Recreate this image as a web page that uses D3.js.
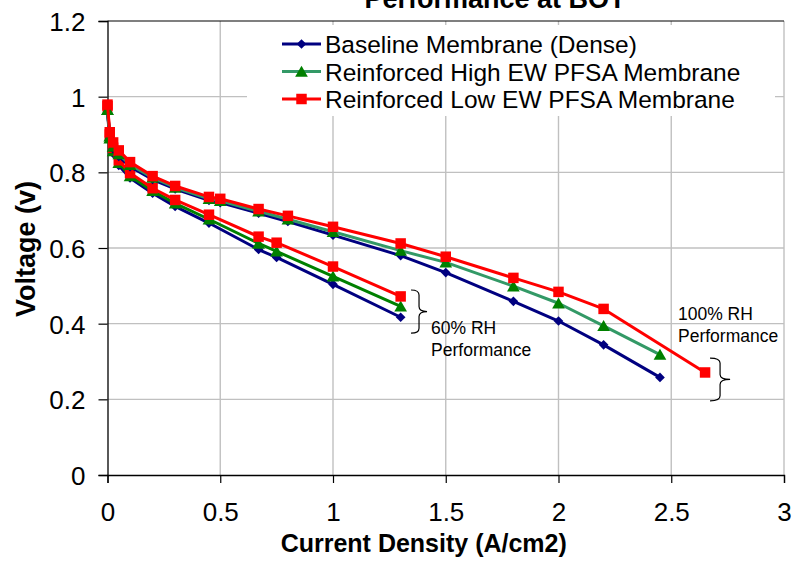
<!DOCTYPE html>
<html>
<head>
<meta charset="utf-8">
<script src="https://cdn.jsdelivr.net/npm/d3@7"></script>
<style>
  body { margin: 0; background: #fff; }
  text { font-family: Arial, "Liberation Sans", sans-serif; fill: #000; }
</style>
</head>
<body>
<div id="chart"></div>
<script>
const WIDTH = 792;
const HEIGHT = 574;

// current density (A/cm2)
const rh100Current = [0, 0.01, 0.025, 0.05, 0.1, 0.2, 0.3, 0.45, 0.5, 0.67, 0.8, 1.0, 1.3, 1.5, 1.8, 2.0, 2.2, 2.45];
const rh100LowEwCurrent = [0, 0.01, 0.025, 0.05, 0.1, 0.2, 0.3, 0.45, 0.5, 0.67, 0.8, 1.0, 1.3, 1.5, 1.8, 2.0, 2.2, 2.65];
const rh60Current = [0, 0.01, 0.025, 0.05, 0.1, 0.2, 0.3, 0.45, 0.67, 0.75, 1.0, 1.3];

// voltage (v), 100% RH
const baseline100 = [0.970, 0.890, 0.862, 0.842, 0.815, 0.781, 0.756, 0.726, 0.720, 0.692, 0.670, 0.634, 0.580, 0.535, 0.459, 0.407, 0.344, 0.258];
const highEw100 = [0.965, 0.895, 0.868, 0.848, 0.820, 0.786, 0.760, 0.730, 0.725, 0.697, 0.676, 0.643, 0.593, 0.562, 0.499, 0.454, 0.394, 0.318];
const lowEw100 = [0.979, 0.906, 0.879, 0.858, 0.827, 0.790, 0.764, 0.735, 0.730, 0.703, 0.685, 0.656, 0.612, 0.577, 0.521, 0.484, 0.439, 0.271];

// voltage (v), 60% RH
const baseline60 = [0.960, 0.885, 0.850, 0.818, 0.785, 0.745, 0.710, 0.666, 0.596, 0.575, 0.504, 0.417];
const highEw60 = [0.965, 0.890, 0.856, 0.825, 0.790, 0.751, 0.718, 0.676, 0.612, 0.591, 0.525, 0.446];
const lowEw60 = [0.975, 0.900, 0.865, 0.832, 0.798, 0.758, 0.727, 0.688, 0.630, 0.614, 0.551, 0.472];

const legendLabels = ["Baseline Membrane (Dense)", "Reinforced High EW PFSA Membrane", "Reinforced Low EW PFSA Membrane"];
const xTicks = [0, 0.5, 1, 1.5, 2, 2.5, 3];
const yTicks = [0, 0.2, 0.4, 0.6, 0.8, 1, 1.2];

const MARGIN = { TOP: 21, RIGHT: 8, BOTTOM: 99, LEFT: 107.5 };
const widthPlot = WIDTH - MARGIN.LEFT - MARGIN.RIGHT;
const heightPlot = HEIGHT - MARGIN.TOP - MARGIN.BOTTOM;

const x = d3.scaleLinear().domain([0, 3]).range([0, widthPlot]);
const y = d3.scaleLinear().domain([0, 1.2]).range([heightPlot, 0]);

const svg = d3.select("#chart")
    .append("svg")
    .attr("width", WIDTH)
    .attr("height", HEIGHT);

const container = svg.append("g")
    .attr("transform", `translate(${MARGIN.LEFT}, ${MARGIN.TOP})`);

// gridlines
container.append("g")
    .selectAll("line")
    .data(xTicks.slice(1))
    .join("line")
    .attr("x1", d => x(d)).attr("x2", d => x(d))
    .attr("y1", 0).attr("y2", heightPlot)
    .attr("stroke", "#c0c0c0").attr("stroke-width", 1.4);

container.append("g")
    .selectAll("line")
    .data(yTicks.slice(1, -1))
    .join("line")
    .attr("x1", 0).attr("x2", widthPlot)
    .attr("y1", d => y(d)).attr("y2", d => y(d))
    .attr("stroke", "#c0c0c0").attr("stroke-width", 1.4);

container.append("line")
    .attr("x1", 0).attr("x2", widthPlot)
    .attr("y1", y(1.2)).attr("y2", y(1.2))
    .attr("stroke", "#000").attr("stroke-width", 1.2);

// axes
const xAxis = container.append("g")
    .attr("transform", `translate(0, ${heightPlot})`)
    .call(d3.axisBottom(x).tickValues(xTicks).tickSize(8).tickPadding(20).tickFormat(d3.format("")));
const yAxis = container.append("g")
    .call(d3.axisLeft(y).tickValues(yTicks).tickSize(9).tickPadding(13).tickFormat(d3.format("")));

[xAxis, yAxis].forEach(a => {
    a.select(".domain").attr("stroke", "#000").attr("stroke-width", 1.3);
    a.selectAll(".tick line").attr("stroke", "#000").attr("stroke-width", 1.2);
    a.selectAll(".tick text").attr("font-size", 26).attr("font-family", "Arial, 'Liberation Sans', sans-serif").attr("fill", "#000");
});
yAxis.selectAll(".tick text").attr("dy", "0.36em");

// series
const series = [
    { xs: rh60Current, ys: baseline60, line: "#000080", fill: "#000080", shape: "diamond" },
    { xs: rh60Current, ys: highEw60, line: "#008000", fill: "#008000", shape: "triangle" },
    { xs: rh60Current, ys: lowEw60, line: "#ff0000", fill: "#ff0000", shape: "square" },
    { xs: rh100Current, ys: baseline100, line: "#000080", fill: "#000080", shape: "diamond" },
    { xs: rh100Current, ys: highEw100, line: "#339966", fill: "#008000", shape: "triangle" },
    { xs: rh100LowEwCurrent, ys: lowEw100, line: "#ff0000", fill: "#ff0000", shape: "square" }
];

const symbolFor = shape => {
    if (shape === "diamond") return d3.symbol().type(d3.symbolDiamond2).size(60)();
    if (shape === "triangle") return d3.symbol().type(d3.symbolTriangle).size(70)();
    return d3.symbol().type(d3.symbolSquare).size(110)();
};

const line = d3.line().x(d => x(d[0])).y(d => y(d[1]));

series.forEach(s => {
    const pts = s.xs.map((v, i) => [v, s.ys[i]]);
    const g = container.append("g");
    g.append("path")
        .datum(pts)
        .attr("d", line)
        .attr("fill", "none")
        .attr("stroke", s.line)
        .attr("stroke-width", 3)
        .attr("stroke-linejoin", "round");
    g.selectAll("path.pt")
        .data(pts)
        .join("path")
        .attr("class", "pt")
        .attr("d", symbolFor(s.shape))
        .attr("transform", d => `translate(${x(d[0])}, ${y(d[1]) + (s.shape === "triangle" ? 1.5 : 0)})`)
        .attr("fill", s.fill);
});

// legend
const legend = svg.append("g");
legend.append("rect")
    .attr("x", 247).attr("y", 25)
    .attr("width", 528).attr("height", 91)
    .attr("fill", "#fff");

const legendItems = [
    { line: "#000080", fill: "#000080", shape: "diamond" },
    { line: "#339966", fill: "#008000", shape: "triangle" },
    { line: "#ff0000", fill: "#ff0000", shape: "square" }
];

legendItems.forEach((item, i) => {
    const ly = 44 + i * 27.5;
    legend.append("line")
        .attr("x1", 282).attr("x2", 321)
        .attr("y1", ly).attr("y2", ly)
        .attr("stroke", item.line).attr("stroke-width", 3);
    legend.append("path")
        .attr("d", symbolFor(item.shape))
        .attr("transform", `translate(301.5, ${ly + (item.shape === "triangle" ? 1.5 : 0)})`)
        .attr("fill", item.fill);
    legend.append("text")
        .attr("x", 325).attr("y", ly + 9)
        .attr("font-size", 24.5)
        .text(legendLabels[i]);
});

// annotations
const brace = (x0, tip, top, bot) => {
    const xa = x(x0), xt = x(tip), yt = y(top), yb = y(bot);
    const xm = (xa + xt) / 2, ym = (yt + yb) / 2, r = 5;
    return `M${xa},${yt} Q${xm},${yt} ${xm},${yt + r} L${xm},${ym - r} Q${xm},${ym} ${xt},${ym} ` +
        `Q${xm},${ym} ${xm},${ym + r} L${xm},${yb - r} Q${xm},${yb} ${xa},${yb}`;
};

const annotations = [
    { brace: [1.346, 1.417, 0.489, 0.375], tx: 1.435, ty: 0.372, lines: ["60% RH", "Performance"] },
    { brace: [2.672, 2.761, 0.309, 0.196], tx: 2.53, ty: 0.411, lines: ["100% RH", "Performance"] }
];

annotations.forEach(a => {
    container.append("path")
        .attr("d", brace(...a.brace))
        .attr("fill", "none").attr("stroke", "#000").attr("stroke-width", 1.2);
    a.lines.forEach((t, i) => {
        container.append("text")
            .attr("x", x(a.tx)).attr("y", y(a.ty) + i * 22)
            .attr("font-size", 17.5)
            .text(t);
    });
});

// titles
svg.append("text")
    .attr("x", 495).attr("y", 8)
    .attr("text-anchor", "middle")
    .attr("font-size", 27).attr("font-weight", "bold")
    .text("Performance at BOT");

svg.append("text")
    .attr("x", MARGIN.LEFT + widthPlot / 2 - 22).attr("y", 552)
    .attr("text-anchor", "middle")
    .attr("font-size", 25).attr("font-weight", "bold")
    .text("Current Density (A/cm2)");

svg.append("text")
    .attr("transform", `translate(35, 249) rotate(-90)`)
    .attr("text-anchor", "middle")
    .attr("font-size", 27).attr("font-weight", "bold")
    .text("Voltage (v)");
</script>
</body>
</html>
